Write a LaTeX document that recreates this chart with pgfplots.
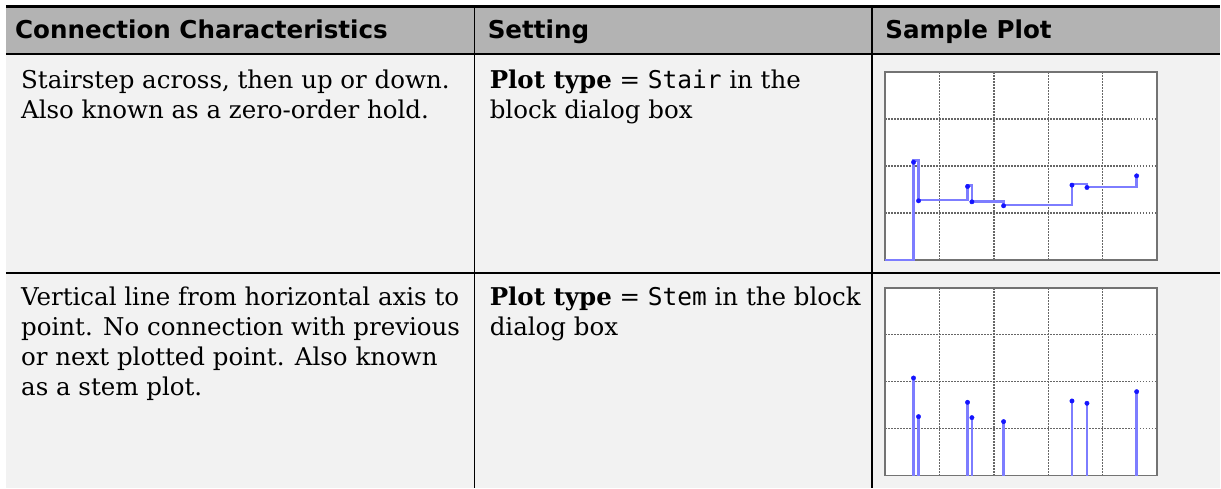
\documentclass[border=0pt]{standalone}
\usepackage{fontspec}
\setmainfont{DejaVu Serif}
\setmonofont{DejaVu Sans Mono}
\newfontfamily\hdrfont{DejaVu Sans}
\usepackage{pgfplots}
\usepackage{pgfplotstable}
\pgfplotsset{compat=1.18}
\definecolor{hdrgray}{HTML}{B3B3B3}
\definecolor{bodygray}{HTML}{F2F2F2}
\definecolor{stairline}{RGB}{125,125,255}
\definecolor{markblue}{RGB}{20,20,255}

\pgfplotstableread{
x y
0 0
0.521 2.113
0.613 1.270
1.515 1.582
1.595 1.241
2.178 1.163
3.436 1.617
3.712 1.553
4.626 1.801
}\stairdata

\pgfplotstableread{
x y
0.521 2.078
0.613 1.255
1.515 1.560
1.595 1.234
2.178 1.149
3.436 1.589
3.712 1.539
4.626 1.787
}\stemdata

\pgfplotsset{sample/.style={
  scale only axis, width=272pt, height=188pt,
  xmin=0, xmax=5, ymin=0, ymax=4,
  xtick={1,2,3,4}, ytick={1,2,3},
  xticklabels={}, yticklabels={},
  major tick length=0pt,
  grid=major,
  major grid style={dash pattern=on 1.5pt off 1.5pt, line width=1.4pt, color=black!60},
  axis line style={line width=1.6pt, color=black!55},
  axis background/.style={fill=white},
  clip=false, anchor=north west}}

\begin{document}
\begin{tikzpicture}[x=1pt,y=1pt]
\path[fill=white] (0,0) rectangle (1221,-488);
\fill[hdrgray] (6,-7) rectangle (1221,-54);
\fill[bodygray] (6,-55) rectangle (1221,-488);
\draw[line width=2.2pt] (6,-6.5) -- (1221,-6.5);
\draw[line width=1.9pt] (6,-54.5) -- (1221,-54.5);
\draw[line width=1.9pt] (6,-273.3) -- (1221,-273.3);
\draw[line width=1.8pt] (475,-6) -- (475,-488);
\draw[line width=1.8pt] (873,-6) -- (873,-488);

\tikzset{hdr/.style={anchor=base west, inner sep=0pt, font=\hdrfont\bfseries\fontsize{24.6}{29}\selectfont},
         bd/.style={anchor=base west, inner sep=0pt, font=\fontsize{24.5}{30}\selectfont}}
\node[hdr] at (15,-39) {Connection Characteristics};
\node[hdr] at (488,-39) {Setting};
\node[hdr] at (886,-39) {Sample Plot};

\node[bd] at (21,-89) {Stairstep across, then up or down.};
\node[bd] at (21,-119) {Also known as a zero-order hold.};
\node[bd] at (490,-89) {\textbf{Plot type} = \texttt{Stair} in the};
\node[bd] at (490,-119) {block dialog box};

\node[bd] at (21,-306) {Vertical line from horizontal axis to};
\node[bd] at (21,-336) {point. No connection with previous};
\node[bd] at (21,-366) {or next plotted point. Also known};
\node[bd] at (21,-396) {as a stem plot.};
\node[bd] at (490,-306) {\textbf{Plot type} = \texttt{Stem} in the block};
\node[bd] at (490,-336) {dialog box};

\begin{axis}[sample, at={(886pt,-72pt)}]
\addplot[const plot, color=stairline, line width=2.4pt, no markers] table[x=x,y=y] {\stairdata};
\addplot[only marks, mark=*, mark size=2.2pt, color=markblue] table[x=x,y=y] {\stemdata};
\end{axis}

\begin{axis}[sample, at={(886pt,-288pt)}]
\addplot[ycomb, color=stairline, line width=2.4pt, no markers] table[x=x,y=y] {\stemdata};
\addplot[only marks, mark=*, mark size=2.2pt, color=markblue] table[x=x,y=y] {\stemdata};
\end{axis}
\end{tikzpicture}
\end{document}
